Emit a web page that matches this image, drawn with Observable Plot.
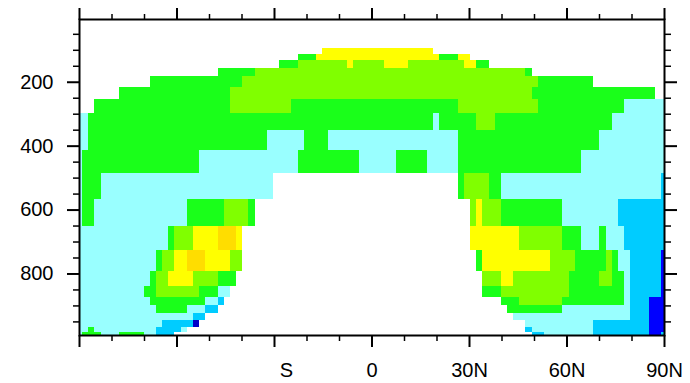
<!DOCTYPE html>
<html>
<head>
<meta charset="utf-8">
<script src="https://cdn.jsdelivr.net/npm/d3@7"></script>
<script src="https://cdn.jsdelivr.net/npm/@observablehq/plot@0.6"></script>
<style>
  html, body { margin: 0; padding: 0; background: #fff; }
</style>
</head>
<body>
<div id="chart"></div>
<script>
// Model pressure levels (hPa), top to bottom
const levels = [3.64, 7.59, 14.36, 24.61, 38.27, 54.6, 72.01, 87.82, 103.32, 121.55,
  142.99, 168.23, 197.91, 232.83, 273.91, 322.24, 379.1, 445.99, 524.69, 609.78,
  691.39, 763.4, 820.86, 859.53, 887.02, 912.64, 936.2, 957.49, 976.33, 992.56];
// 96 latitudes from 90S to 90N
const nLat = 96;
const lats = d3.range(nLat).map(i => -90 + i * 180 / (nLat - 1));

// Classes (binned values), lowest to highest, and their colours
const classes = ["E", "D", "B", "C", "G", "L", "Y", "O"];
const classColors = ["#0000c8", "#0000ff", "#00ccff", "#99ffff", "#1aff1a", "#80ff00", "#ffff00", "#ffdd00"];

// Class of every cell, run-length encoded by level (W = missing)
const rowsRLE = [
  "W96", "W96", "W96", "W96", "W96", "W96", "W96", "W96",
  "W40 Y18 W38",
  "W36 G3 Y20 G3 Y2 W32",
  "W33 G3 L8 Y1 L5 Y4 L9 Y2 G2 W29",
  "W23 G6 L44 G1 W22",
  "W12 G15 L48 G9 W12",
  "W7 G18 L49 G20 W2",
  "W3 G22 L10 G27 L13 G14 C7",
  "C2 G56 C1 G6 L3 G19 C9",
  "C2 G29 C6 G4 C21 G23 C11",
  "C1 G19 C16 G10 C6 G5 C5 G20 C14",
  "C1 G3 C28 W30 G1 L4 G2 C26 B1",
  "C1 G2 C15 G6 L4 G1 W35 L1 Y1 L3 G10 C9 B8",
  "C15 G1 L3 Y4 O3 Y1 W37 Y8 L7 G3 C3 G1 C3 B7",
  "C13 G1 L2 Y2 O3 Y4 L2 W38 G1 Y11 L4 G5 L1 G1 C2 B5 D1",
  "C12 G1 L2 Y4 L4 G3 W40 L3 Y2 L9 G5 L2 G2 C1 B5 D1",
  "C11 G2 L7 G3 C2 W41 G3 L11 G9 C1 B5 D1",
  "C12 G9 C2 B1 W45 G3 L7 G10 C1 B3 D3",
  "C13 G5 C3 B2 W47 G9 C11 B3 D3",
  "C19 B2 W50 C19 B3 D3",
  "C14 B5 E1 W53 C11 B9 D3",
  "C2 G1 C10 B4 C1 W55 B1 C10 B9 D3",
  "C1 G3 C3 G4 C2 B3 W58 B2 C8 B9 D2 B1"
];

// Tick positions and labels
const latMajor = [-90, -60, -30, 0, 30, 60, 90];
const latLabels = ["", "", "S", "0", "30N", "60N", "90N"];
const latMinor = d3.range(-90, 91, 10).filter(v => v % 30 !== 0);
const pMajor = [200, 400, 600, 800];
const pMinor = d3.range(50, 951, 50).filter(v => v % 200 !== 0);

function expand(rle) {
  const out = [];
  for (const tok of rle.trim().split(/\s+/)) {
    const c = tok[0], n = +tok.slice(1);
    for (let k = 0; k < n; k++) out.push(c);
  }
  return out;
}

const dLat = 180 / (nLat - 1);
const pTop = levels[0], pBot = levels[levels.length - 1];
const cells = [];
rowsRLE.forEach((rle, r) => {
  const row = expand(rle);
  const y1 = r === 0 ? pTop : (levels[r - 1] + levels[r]) / 2;
  const y2 = r === levels.length - 1 ? pBot : (levels[r] + levels[r + 1]) / 2;
  row.forEach((c, i) => {
    if (c === "W") return;
    cells.push({
      x1: Math.max(-90, lats[i] - dLat / 2),
      x2: Math.min(90, lats[i] + dLat / 2),
      y1, y2, cls: c
    });
  });
});

const font = "'Liberation Sans', Arial, Helvetica, sans-serif";
const blank = () => "";

const chart = Plot.plot({
  width: 690,
  height: 383,
  marginLeft: 79,
  marginRight: 26,
  marginTop: 19,
  marginBottom: 48,
  style: { fontFamily: font, fontSize: "20px", color: "black", background: "white", overflow: "visible" },
  x: { domain: [-90, 90], axis: null },
  y: { domain: [pTop, pBot], reverse: true, axis: null },
  color: { type: "ordinal", domain: classes, range: classColors },
  marks: [
    Plot.rect(cells, { x1: "x1", x2: "x2", y1: "y1", y2: "y2", fill: "cls", shapeRendering: "crispEdges" }),
    // minor ticks
    Plot.axisX(latMinor, { anchor: "bottom", tickSize: 6, tickFormat: blank, strokeWidth: 1.5 }),
    Plot.axisX(latMinor, { anchor: "top", tickSize: 6, tickFormat: blank, strokeWidth: 1.5 }),
    Plot.axisY(pMinor, { anchor: "left", tickSize: 6, tickFormat: blank, strokeWidth: 1.5 }),
    Plot.axisY(pMinor, { anchor: "right", tickSize: 6, tickFormat: blank, strokeWidth: 1.5 }),
    // major ticks
    Plot.axisX(latMajor, { anchor: "top", tickSize: 12, tickFormat: blank, strokeWidth: 2 }),
    Plot.axisX(latMajor, { anchor: "bottom", tickSize: 12, strokeWidth: 2, tickPadding: 15,
      tickFormat: d => { const k = latMajor.indexOf(d); return k === 2 ? "" : latLabels[k]; },
      fontSize: 20, fill: "black" }),
    Plot.axisX([latMajor[2]], { anchor: "bottom", tickSize: 0, tickPadding: 27, dx: 12,
      tickFormat: () => latLabels[2], fontSize: 20, fill: "black" }),
    Plot.axisY(pMajor, { anchor: "left", tickSize: 12, tickPadding: 14, strokeWidth: 2,
      tickFormat: d => String(d), fontSize: 20, fill: "black" }),
    Plot.axisY(pMajor, { anchor: "right", tickSize: 12, tickFormat: blank, strokeWidth: 2 }),
    Plot.frame({ stroke: "black", strokeWidth: 2 })
  ]
});

document.getElementById("chart").appendChild(chart);
</script>
</body>
</html>
